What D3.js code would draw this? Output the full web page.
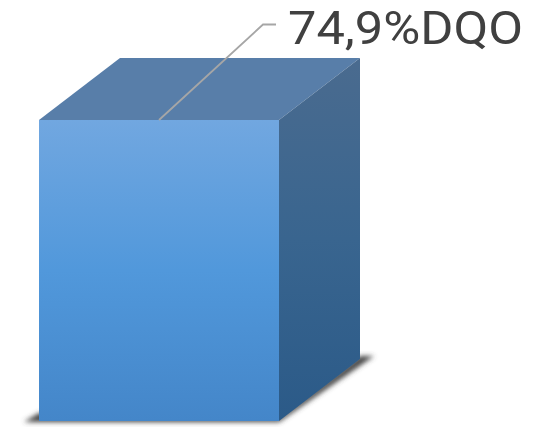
<!DOCTYPE html>
<html><head><meta charset="utf-8">
<script src="https://cdn.jsdelivr.net/npm/d3@7"></script>
<style>html,body{margin:0;padding:0;background:#fff}svg{display:block}</style>
</head><body><svg id="c" width="536" height="427"></svg>
<script>
const categories = ["DQO"];
const values = [74.9];
const labels = ["74,9%DQO"];

const svg = d3.select("#c");
const x = d3.scaleBand().domain(categories).range([39, 279]).padding(0);
const y = d3.scaleLinear().domain([0, 74.9]).range([421, 120]);
const dx = 81, dy = -62;

const defs = svg.append("defs");
function grad(id, stops) {
  const g = defs.append("linearGradient").attr("id", id).attr("x1",0).attr("x2",0).attr("y1",0).attr("y2",1);
  stops.forEach(s => g.append("stop").attr("offset", s[0]).attr("stop-color", s[1]));
}
grad("front", [[0,"#71a7e0"],[0.5,"#5198db"],[1,"#4486c9"]]);
grad("side", [[0,"#4a6b8f"],[0.5,"#39658f"],[1,"#2b5a88"]]);
const blur = defs.append("filter").attr("id","soft").attr("x","-20%").attr("y","-20%").attr("width","140%").attr("height","140%");
blur.append("feGaussianBlur").attr("stdDeviation", 2.4);

const line = d3.line();
const g = svg.append("g");

categories.forEach((c, i) => {
  const x0 = x(c), x1 = x0 + x.bandwidth(), yT = y(values[i]), yB = y(0);
  g.append("path").attr("filter","url(#soft)").attr("fill","#444")
    .attr("d", line([[x0-15,yB+1],[x1,yB+1],[x1+dx+14,yB+dy-3],[x1+dx,yB+dy-3],[x1,yB-4],[x0,yB-8]])+"Z");
  g.append("path").attr("fill","#587ea9")
    .attr("d", line([[x0,yT],[x1,yT],[x1+dx,yT+dy],[x0+dx,yT+dy]])+"Z");
  g.append("path").attr("fill","url(#side)")
    .attr("d", line([[x1,yT],[x1+dx,yT+dy],[x1+dx,yB+dy],[x1,yB]])+"Z");
  g.append("rect").attr("x",x0).attr("y",yT).attr("width",x.bandwidth()).attr("height",yB-yT).attr("fill","url(#front)");
  const cx = (x0+x1)/2;
  g.append("path").attr("fill","none").attr("stroke","#a6a6a6").attr("stroke-width",1.8)
    .attr("d", line([[cx,yT],[263,24.5],[276,24.5]]));
  g.append("text").attr("x",288).attr("y",43.6).attr("font-family","Roboto, sans-serif")
    .attr("font-size",47).attr("textLength",235).attr("lengthAdjust","spacingAndGlyphs").attr("fill","#404040").text(labels[i]);
});
</script></body></html>
